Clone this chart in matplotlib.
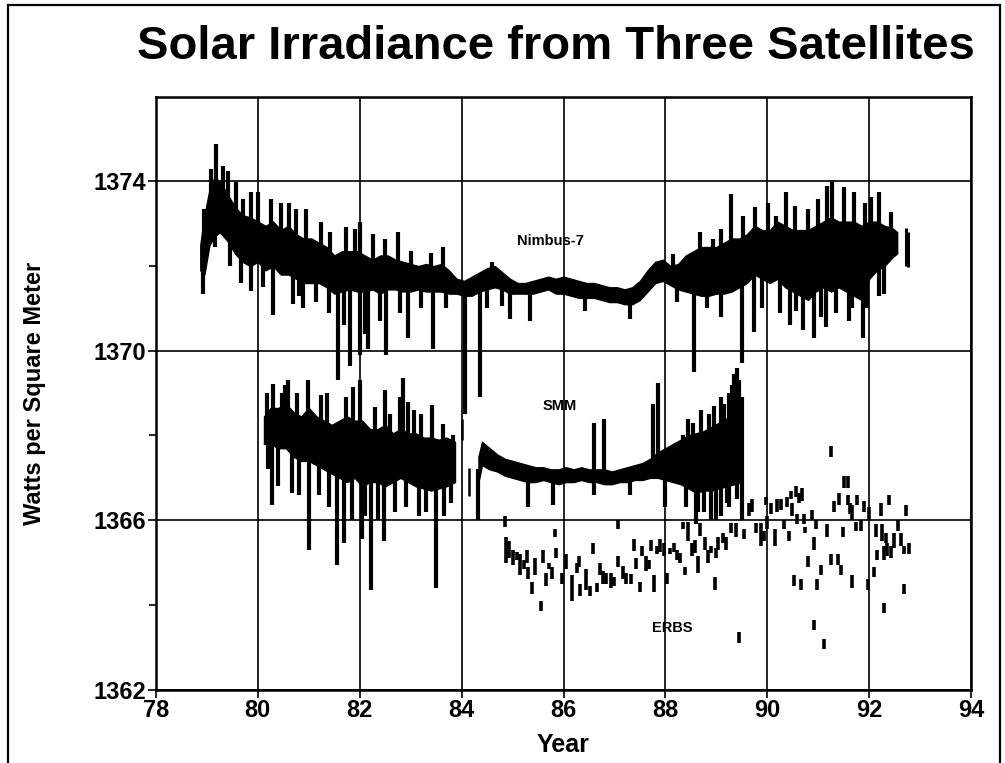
import numpy as np
import matplotlib
matplotlib.use("Agg")
import matplotlib.pyplot as plt
from matplotlib import font_manager
from matplotlib.patches import Rectangle

# Nimbus-7: dense core band (year, low, high)
nimbus_year = [78.87, 78.95, 79.05, 79.15, 79.25, 79.4, 79.55, 79.7, 79.85, 80.0,
               80.15, 80.3, 80.45, 80.6, 80.75, 80.9, 81.05, 81.2, 81.35, 81.5,
               81.65, 81.8, 81.95, 82.1, 82.25, 82.4, 82.55, 82.7, 82.85, 83.0,
               83.15, 83.3, 83.45, 83.6, 83.75, 83.9, 84.05, 84.2, 84.35, 84.5,
               84.65, 84.8, 84.95, 85.1, 85.25, 85.4, 85.55, 85.7, 85.85, 86.0,
               86.15, 86.3, 86.45, 86.6, 86.75, 86.9, 87.05, 87.2, 87.35, 87.5,
               87.65, 87.8, 87.95, 88.1, 88.25, 88.4, 88.55, 88.7, 88.85, 89.0,
               89.15, 89.3, 89.45, 89.6, 89.75, 89.9, 90.05, 90.2, 90.35, 90.5,
               90.65, 90.8, 90.95, 91.1, 91.25, 91.4, 91.55, 91.7, 91.85, 92.0,
               92.15, 92.3, 92.45, 92.55]
nimbus_hi = [1372.5, 1373.2, 1373.8, 1374.1, 1374.0, 1373.7, 1373.4, 1373.2, 1373.15, 1373.05,
             1372.95, 1373.05, 1372.85, 1372.95, 1372.75, 1372.65, 1372.65, 1372.55, 1372.45, 1372.25,
             1372.35, 1372.35, 1372.35, 1372.25, 1372.15, 1372.25, 1372.25, 1372.15, 1372.1, 1372.05,
             1372.0, 1372.05, 1372.0, 1372.05, 1371.9, 1371.7, 1371.65, 1371.75, 1371.85, 1371.95,
             1372.0, 1371.85, 1371.7, 1371.6, 1371.6, 1371.65, 1371.7, 1371.75, 1371.7, 1371.75,
             1371.7, 1371.65, 1371.6, 1371.6, 1371.55, 1371.5, 1371.5, 1371.45, 1371.5, 1371.65,
             1371.9, 1372.1, 1372.15, 1372.0, 1372.05, 1372.25, 1372.35, 1372.45, 1372.45, 1372.45,
             1372.55, 1372.65, 1372.65, 1372.75, 1372.95, 1372.85, 1372.85, 1373.05, 1372.95, 1372.85,
             1372.85, 1372.85, 1372.95, 1373.05, 1373.15, 1373.05, 1373.05, 1373.05, 1372.95, 1373.05,
             1373.05, 1372.95, 1372.9, 1372.8]
nimbus_lo = [1371.9, 1371.8, 1372.5, 1372.7, 1372.8, 1372.6, 1372.3, 1372.1, 1372.0, 1372.1,
             1371.9, 1372.0, 1371.8, 1371.8, 1371.7, 1371.6, 1371.6, 1371.6, 1371.5, 1371.35,
             1371.4, 1371.45, 1371.4, 1371.4, 1371.45, 1371.35, 1371.45, 1371.45, 1371.4, 1371.4,
             1371.45, 1371.4, 1371.4, 1371.4, 1371.35, 1371.35, 1371.3, 1371.3, 1371.4, 1371.45,
             1371.5, 1371.45, 1371.35, 1371.35, 1371.35, 1371.35, 1371.4, 1371.45, 1371.35, 1371.35,
             1371.3, 1371.25, 1371.25, 1371.25, 1371.2, 1371.15, 1371.15, 1371.1, 1371.1, 1371.2,
             1371.4, 1371.6, 1371.65, 1371.55, 1371.45, 1371.4, 1371.35, 1371.3, 1371.3, 1371.35,
             1371.35, 1371.4, 1371.5, 1371.6, 1371.8, 1371.7, 1371.6, 1371.7, 1371.5, 1371.4,
             1371.3, 1371.2, 1371.4, 1371.5, 1371.4, 1371.5, 1371.4, 1371.3, 1371.2, 1371.7,
             1371.9, 1372.0, 1372.2, 1372.3]
# isolated Nimbus-7 piece after the main record
nimbus_tail = [(92.72, 1372.0, 1372.9), (92.77, 1371.97, 1372.8)]
# spikes beyond the core (year, extreme value)
nimbus_spike_year = [78.93, 78.95, 79.08, 79.15, 79.18, 79.31, 79.41, 79.46, 79.57, 79.67,
                     79.7, 79.87, 79.87, 80.0, 80.1, 80.26, 80.3, 80.46, 80.62, 80.69,
                     80.75, 80.8, 80.89, 80.95, 81.15, 81.24, 81.4, 81.41, 81.57, 81.7,
                     81.73, 81.8, 81.9, 82.0, 82.0, 82.1, 82.16, 82.26, 82.4, 82.49,
                     82.52, 82.75, 82.8, 82.95, 83.0, 83.2, 83.4, 83.44, 83.63, 83.7,
                     84.07, 84.36, 84.5, 84.6, 84.8, 84.95, 85.35, 86.43, 87.31,
                     88.15, 88.23, 88.56, 88.67, 88.82, 88.93, 89.1, 89.1, 89.28, 89.5,
                     89.52, 89.74, 89.75, 89.9, 90.01, 90.18, 90.25, 90.37, 90.45, 90.54,
                     90.56, 90.7, 90.8, 90.92, 90.99, 91.05, 91.15, 91.17, 91.27, 91.35,
                     91.5, 91.6, 91.67, 91.71, 91.87, 91.91, 91.95, 92.04, 92.2, 92.2,
                     92.3, 92.43]
nimbus_spike_val = [1371.35, 1373.35, 1374.3, 1372.45, 1374.88, 1374.37, 1374.25, 1372.0, 1373.98, 1371.6,
                    1373.58, 1373.74, 1371.4, 1373.74, 1371.5, 1373.58, 1370.85, 1373.5, 1373.5, 1371.1,
                    1373.35, 1371.3, 1371.0, 1373.35, 1371.15, 1373.03, 1370.9, 1372.8, 1369.3, 1370.6,
                    1372.92, 1369.65, 1372.88, 1373.03, 1369.9, 1370.4, 1370.05, 1372.76, 1370.7, 1372.64,
                    1369.9, 1372.8, 1370.9, 1370.3, 1372.36, 1371.0, 1372.32, 1370.05, 1372.44, 1371.0,
                    1368.5, 1368.9, 1371.0, 1372.1, 1371.05, 1370.76, 1370.7, 1370.95, 1370.76,
                    1372.29, 1371.15, 1369.5, 1372.8, 1371.0, 1372.64, 1372.88, 1370.8, 1373.7, 1369.7,
                    1373.19, 1370.45, 1373.39, 1371.0, 1373.5, 1373.19, 1370.9, 1373.74, 1370.6, 1373.43,
                    1370.95, 1370.5, 1373.35, 1370.3, 1373.58, 1370.8, 1370.55, 1373.9, 1374.02, 1370.9,
                    1373.86, 1370.7, 1371.0, 1373.74, 1370.3, 1373.5, 1371.0, 1373.62, 1373.74, 1371.3,
                    1371.35, 1373.27]

# SMM: two pieces of dense record
smm1_year = [80.12, 80.25, 80.4, 80.55, 80.7, 80.85, 81.0, 81.15, 81.3, 81.45,
             81.6, 81.75, 81.9, 82.05, 82.2, 82.35, 82.5, 82.65, 82.8, 82.95,
             83.1, 83.25, 83.4, 83.55, 83.7, 83.87]
smm1_hi = [1368.45, 1368.65, 1368.65, 1368.75, 1368.55, 1368.45, 1368.65, 1368.45, 1368.35, 1368.25,
           1368.35, 1368.45, 1368.35, 1368.35, 1368.15, 1368.15, 1368.25, 1368.05, 1368.15, 1368.05,
           1368.05, 1367.95, 1367.95, 1367.9, 1367.95, 1367.85]
smm1_lo = [1367.8, 1367.8, 1367.7, 1367.7, 1367.5, 1367.4, 1367.4, 1367.3, 1367.2, 1367.1,
           1367.0, 1366.9, 1367.0, 1366.8, 1366.9, 1366.9, 1366.8, 1366.9, 1367.0, 1366.9,
           1366.8, 1366.75, 1366.7, 1366.75, 1366.8, 1366.9]
smm2_year = [84.33, 84.4, 84.55, 84.7, 84.85, 85.0, 85.15, 85.3, 85.45, 85.6,
             85.75, 85.9, 86.05, 86.2, 86.35, 86.5, 86.65, 86.8, 86.95, 87.1,
             87.25, 87.4, 87.55, 87.7, 87.85, 88.0, 88.15, 88.3, 88.45, 88.6,
             88.75, 88.9, 89.05, 89.2, 89.35, 89.5]
smm2_hi = [1367.5, 1367.85, 1367.7, 1367.55, 1367.45, 1367.4, 1367.35, 1367.3, 1367.25, 1367.25,
           1367.2, 1367.2, 1367.25, 1367.2, 1367.25, 1367.2, 1367.2, 1367.2, 1367.15, 1367.2,
           1367.25, 1367.3, 1367.35, 1367.45, 1367.6, 1367.7, 1367.8, 1367.9, 1368.0, 1368.05,
           1368.1, 1368.2, 1368.3, 1368.4, 1368.5, 1368.5]
smm2_lo = [1366.9, 1367.3, 1367.2, 1367.15, 1367.05, 1367.0, 1366.95, 1366.9, 1366.9, 1366.95,
           1366.9, 1366.85, 1366.9, 1366.9, 1366.95, 1366.9, 1366.9, 1366.85, 1366.85, 1366.9,
           1366.9, 1366.95, 1366.95, 1367.0, 1367.0, 1366.95, 1366.9, 1366.85, 1366.75, 1366.65,
           1366.7, 1366.7, 1366.75, 1366.8, 1366.85, 1366.9]
smm_extra = [(84.0, 1367.9, 1368.4), (84.15, 1366.56, 1367.23)]
smm_spike_year = [80.17, 80.2, 80.28, 80.3, 80.4, 80.47, 80.54, 80.6, 80.67, 80.76,
                  80.8, 80.99, 81.0, 81.2, 81.23, 81.35, 81.4, 81.56, 81.69, 81.74,
                  81.85, 81.87, 82.0, 82.05, 82.1, 82.23, 82.3, 82.35, 82.48, 82.5,
                  82.6, 82.7, 82.79, 82.84, 82.9, 82.95, 83.06, 83.17, 83.21, 83.3,
                  83.41, 83.5, 83.63, 83.65, 83.8, 83.83,
                  84.33, 85.3, 85.8, 86.6, 86.6, 86.8, 87.3, 87.75, 87.85, 88.0,
                  88.35, 88.4, 88.45, 88.55, 88.6, 88.65, 88.7, 88.75, 88.85, 88.9,
                  88.95, 89.0, 89.1, 89.1, 89.15, 89.2, 89.25, 89.25, 89.3, 89.35,
                  89.4, 89.4, 89.45, 89.5, 89.5]
smm_spike_val = [1369.0, 1367.2, 1366.35, 1369.22, 1366.8, 1369.0, 1369.2, 1369.3, 1366.65, 1369.0,
                 1366.6, 1369.3, 1365.3, 1366.6, 1368.95, 1369.0, 1366.3, 1364.95, 1365.45, 1368.9,
                 1366.0, 1369.14, 1369.3, 1365.55, 1366.1, 1364.35, 1368.67, 1366.0, 1365.5, 1369.07,
                 1368.5, 1366.2, 1368.9, 1369.35, 1366.3, 1368.8, 1368.6, 1366.1, 1368.5, 1366.2,
                 1368.73, 1364.4, 1368.26, 1366.1, 1366.4, 1368.0,
                 1366.0, 1366.3, 1366.35, 1368.3, 1366.6, 1368.4, 1366.6, 1368.75, 1369.25, 1366.3,
                 1368.0, 1366.3, 1368.4, 1368.3, 1365.9, 1366.2, 1368.6, 1366.2, 1368.5, 1366.0,
                 1368.7, 1366.0, 1368.9, 1366.1, 1368.75, 1366.4, 1369.0, 1366.3, 1369.2, 1369.45,
                 1369.6, 1366.5, 1369.3, 1368.9, 1366.0]

# ERBS: scattered short measurements (year, low, high)
erbs = [(84.85, 1365.85, 1366.1), (84.87, 1365.0, 1365.6), (84.93, 1365.1, 1365.5),
        (85.0, 1364.95, 1365.3), (85.08, 1365.05, 1365.25), (85.15, 1364.7, 1365.2),
        (85.22, 1364.85, 1365.05), (85.28, 1365.0, 1365.3), (85.31, 1364.6, 1364.9),
        (85.38, 1364.25, 1364.55), (85.45, 1364.7, 1365.1), (85.55, 1363.85, 1364.1),
        (85.6, 1365.0, 1365.3), (85.66, 1364.45, 1364.75), (85.72, 1364.85, 1365.0),
        (85.78, 1364.6, 1364.9), (85.84, 1365.6, 1365.8), (85.86, 1365.1, 1365.35),
        (85.97, 1364.5, 1364.75), (86.05, 1364.85, 1365.2), (86.16, 1364.1, 1364.7),
        (86.26, 1364.75, 1365.0), (86.3, 1364.9, 1365.15), (86.32, 1364.2, 1364.5),
        (86.45, 1364.35, 1364.85), (86.52, 1364.2, 1364.45), (86.57, 1365.2, 1365.45),
        (86.65, 1364.3, 1364.52), (86.71, 1364.7, 1365.0), (86.77, 1364.5, 1364.8),
        (86.84, 1364.5, 1364.75), (86.94, 1364.4, 1364.75), (87.0, 1364.45, 1364.65),
        (87.06, 1364.9, 1365.15), (87.06, 1365.8, 1366.0), (87.16, 1364.6, 1364.92),
        (87.23, 1364.5, 1364.75), (87.32, 1364.5, 1364.72), (87.39, 1365.27, 1365.55),
        (87.42, 1364.85, 1365.1), (87.5, 1364.3, 1364.55), (87.54, 1365.15, 1365.4),
        (87.61, 1364.8, 1365.15), (87.68, 1364.85, 1365.07), (87.72, 1365.27, 1365.54),
        (87.77, 1364.3, 1364.7), (87.84, 1365.2, 1365.4), (87.9, 1365.25, 1365.55),
        (87.97, 1365.15, 1365.45), (88.03, 1364.5, 1364.75), (88.1, 1365.2, 1365.35),
        (88.16, 1365.25, 1365.45), (88.23, 1365.07, 1365.3), (88.29, 1365.0, 1365.23),
        (88.35, 1365.8, 1365.95), (88.39, 1364.7, 1364.9), (88.45, 1365.5, 1365.95),
        (88.52, 1365.15, 1365.47), (88.58, 1365.23, 1365.54), (88.65, 1364.75, 1365.15),
        (88.68, 1365.62, 1365.94), (88.77, 1365.3, 1365.6), (88.84, 1365.0, 1365.3),
        (88.9, 1365.23, 1365.4), (88.97, 1364.35, 1364.65), (89.0, 1365.1, 1365.35),
        (89.03, 1365.3, 1365.6), (89.13, 1365.45, 1365.7), (89.19, 1365.3, 1365.6),
        (89.29, 1365.7, 1365.94), (89.39, 1365.6, 1365.94), (89.45, 1363.1, 1363.35),
        (89.55, 1365.55, 1365.8), (89.65, 1366.1, 1366.4), (89.71, 1366.2, 1366.5),
        (89.77, 1365.7, 1365.94), (89.87, 1365.4, 1365.94), (89.94, 1365.5, 1365.75),
        (89.97, 1366.35, 1366.55), (90.0, 1365.8, 1366.1), (90.08, 1366.15, 1366.4),
        (90.15, 1365.4, 1365.8), (90.2, 1366.2, 1366.5), (90.26, 1366.25, 1366.5),
        (90.33, 1365.8, 1366.0), (90.39, 1366.3, 1366.55), (90.43, 1365.5, 1365.75),
        (90.46, 1366.5, 1366.7), (90.49, 1366.1, 1366.4), (90.52, 1364.45, 1364.7),
        (90.56, 1366.55, 1366.8), (90.59, 1365.9, 1366.15), (90.62, 1366.4, 1366.65),
        (90.67, 1364.35, 1364.6), (90.69, 1366.45, 1366.75), (90.72, 1365.9, 1366.15),
        (90.75, 1365.7, 1365.85), (90.79, 1364.9, 1365.15), (90.87, 1366.0, 1366.25),
        (90.92, 1365.3, 1365.6), (90.92, 1363.4, 1363.65), (90.95, 1365.8, 1366.0),
        (90.98, 1364.35, 1364.6), (91.05, 1364.7, 1364.95), (91.11, 1362.95, 1363.2),
        (91.18, 1365.6, 1365.9), (91.25, 1367.5, 1367.75), (91.25, 1364.95, 1365.2),
        (91.31, 1366.2, 1366.45), (91.38, 1364.95, 1365.2), (91.41, 1366.35, 1366.65),
        (91.44, 1364.7, 1364.95), (91.48, 1365.6, 1365.85), (91.51, 1366.75, 1367.05),
        (91.59, 1366.75, 1367.05), (91.59, 1366.35, 1366.6), (91.62, 1366.15, 1366.4),
        (91.67, 1364.4, 1364.7), (91.67, 1366.0, 1366.35), (91.74, 1365.75, 1365.95),
        (91.77, 1366.35, 1366.6), (91.84, 1365.75, 1366.0), (91.9, 1366.2, 1366.45),
        (91.97, 1364.35, 1364.6), (92.0, 1366.0, 1366.3), (92.1, 1364.65, 1364.9),
        (92.13, 1365.6, 1365.9), (92.16, 1365.05, 1365.3), (92.23, 1366.1, 1366.4),
        (92.26, 1365.5, 1365.9), (92.3, 1365.07, 1365.39), (92.3, 1363.8, 1364.05),
        (92.33, 1365.45, 1365.7), (92.36, 1365.15, 1365.45), (92.39, 1366.35, 1366.6),
        (92.43, 1365.1, 1365.4), (92.49, 1365.35, 1365.7), (92.56, 1365.75, 1366.0),
        (92.62, 1365.4, 1365.7), (92.69, 1365.2, 1365.4), (92.69, 1364.25, 1364.5),
        (92.72, 1366.1, 1366.35), (92.79, 1365.2, 1365.45)]

series_labels = [("Nimbus-7", 85.75, 1372.6), ("SMM", 85.93, 1368.69), ("ERBS", 88.13, 1363.45)]
x_ticks = [78, 80, 82, 84, 86, 88, 90, 92, 94]
y_ticks = [1362, 1366, 1370, 1374]


def pick_font(names):
    for n in names:
        try:
            font_manager.findfont(n, fallback_to_default=False)
            return n
        except Exception:
            pass
    return "DejaVu Sans"


narrow = pick_font(["Liberation Sans Narrow", "DejaVu Sans Condensed", "Liberation Sans"])
plt.rcParams["font.family"] = [narrow, "DejaVu Sans"]

fig = plt.figure(figsize=(10.05, 7.63), dpi=100)
ax = fig.add_axes([0.1552, 0.0962, 0.811, 0.7771])

# core bands
ax.fill_between(nimbus_year, nimbus_lo, nimbus_hi, color="black", lw=1.0, zorder=3)
ax.fill_between(smm1_year, smm1_lo, smm1_hi, color="black", lw=1.0, zorder=3)
ax.fill_between(smm2_year, smm2_lo, smm2_hi, color="black", lw=1.0, zorder=3)

nim_mid = (np.array(nimbus_lo) + np.array(nimbus_hi)) / 2
ax.vlines(nimbus_spike_year, np.interp(nimbus_spike_year, nimbus_year, nim_mid),
          nimbus_spike_val, color="black", lw=3.0, zorder=3)
ax.vlines([t[0] for t in nimbus_tail], [t[1] for t in nimbus_tail], [t[2] for t in nimbus_tail],
          color="black", lw=2.2, zorder=3)

smm_year = smm1_year + smm2_year
smm_mid = (np.array(smm1_lo + smm2_lo) + np.array(smm1_hi + smm2_hi)) / 2
ax.vlines(smm_spike_year, np.interp(smm_spike_year, smm_year, smm_mid),
          smm_spike_val, color="black", lw=3.0, zorder=3)
ax.vlines([t[0] for t in smm_extra], [t[1] for t in smm_extra], [t[2] for t in smm_extra],
          color="black", lw=1.8, zorder=3)

ax.vlines([t[0] for t in erbs], [t[1] for t in erbs], [t[2] for t in erbs],
          color="black", lw=2.6, zorder=3)

for name, x, y in series_labels:
    ax.text(x, y, name, ha="center", va="center", fontsize=10.5, fontweight="bold", zorder=4)

ax.set_xlim(78, 94)
ax.set_ylim(1362, 1376)
ax.set_xticks(x_ticks)
ax.set_yticks(y_ticks)
ax.set_yticks([1364, 1368, 1372], minor=True)
ax.grid(True, which="major", color="black", lw=1.2)
ax.set_axisbelow(True)
for s in ax.spines.values():
    s.set_linewidth(1.8)
ax.tick_params(which="major", direction="out", length=6, width=1.2, labelsize=17, pad=1)
ax.tick_params(which="minor", direction="out", length=5, width=1.2)
for lab in ax.get_xticklabels() + ax.get_yticklabels():
    lab.set_fontweight("bold")

ax.set_xlabel("Year", fontsize=18, fontweight="bold", labelpad=8)
ax.set_ylabel("Watts per Square Meter", fontsize=17, fontweight="bold", labelpad=34)
fig.text(0.553, 0.938, "Solar Irradiance from Three Satellites", ha="center", va="center",
         fontsize=34, fontweight="bold")

fig.patches.append(Rectangle((0.008, -0.02), 0.987, 1.013, transform=fig.transFigure,
                             fill=False, lw=1.6, edgecolor="black"))

fig.savefig("out.png", dpi=100)
